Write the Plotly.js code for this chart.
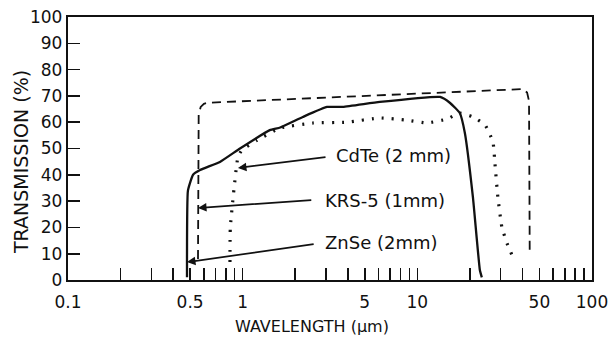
<!DOCTYPE html>
<html><head><meta charset="utf-8">
<script src="https://cdn.plot.ly/plotly-3.0.1.min.js"></script>
<style>html,body{margin:0;padding:0;background:#fff}#chart{width:613px;height:343px}</style>
</head><body><div id="chart"></div>
<script>
// Solid curve
const solidX = [0.48, 0.48, 0.486, 0.52, 0.57, 0.741, 0.965, 1.43, 1.64, 2.21, 3.04, 3.75, 6.1, 13.5, 15.4, 17.5, 18.7, 20.8, 22.8, 23.4];
const solidY = [1, 7.6, 34, 40, 41.8, 44.9, 50, 57, 58, 62, 65.8, 65.8, 67.7, 69.6, 67.3, 63.5, 56, 31.6, 3.8, 1];
// Dotted curve
const dottedX = [0.846, 0.85, 0.94, 0.99, 1.2, 1.64, 2.53, 3.95, 6.1, 8.7, 11.35, 14.8, 17.5, 20.8, 24.4, 27.1, 27.8, 28.9, 30.5, 32.6, 34.8];
const dottedY = [6.8, 20, 46.8, 49.4, 53, 57.8, 59.7, 60, 61.6, 60.8, 59.7, 61.2, 63.5, 62, 59, 52.5, 44.5, 31.6, 20, 14, 9.5];
// Dashed curve
const dashedX = [0.555, 0.555, 0.56, 0.575, 0.6, 0.63, 40.2, 42.5, 43.6, 44];
const dashedY = [8, 58, 63, 65.8, 67, 67.4, 72.6, 71.3, 68, 10.3];

const xTickVals = [0.1,0.2,0.3,0.4,0.5,0.6,0.7,0.8,0.9,1,2,3,4,5,6,7,8,9,10,20,30,40,50,60,70,80,90,100];
const xTickLabels = {0.1:"0.1",0.5:"0.5",1:"1",5:"5",10:"10",50:"50",100:"100"};
const yTickVals = [0,10,20,30,40,50,60,70,80,90,100];

// Curve labels with arrow tip, arrow tail and text position (wavelength, %)
const labelText = ["CdTe (2 mm)", "KRS-5 (1mm)", "ZnSe (2mm)"];
const labelTip = [[0.94, 42.6], [0.555, 27.4], [0.48, 6.8]];
const labelTail = [[3.04, 46.8], [2.52, 30.4], [2.6, 13.7]];
const labelPos = [[3.35, 47.5], [2.9, 30.4], [2.9, 14.1]];

const ink = '#111';
const fam = 'DejaVu Sans, sans-serif';
const tickFont = {family:fam, size:17, color:ink};

const traces = [
  {x:dashedX, y:dashedY, mode:'lines', line:{color:ink, width:1.8, dash:'9px,6px'}, hoverinfo:'skip'},
  {x:solidX, y:solidY, mode:'lines', line:{color:ink, width:2.3, shape:'spline', smoothing:0.4}, hoverinfo:'skip'},
  {x:dottedX, y:dottedY, mode:'lines', line:{color:ink, width:3.2, dash:'2px,8px', shape:'spline', smoothing:0.4}, hoverinfo:'skip'}
];

const annotations = [];
for (let i=0;i<labelText.length;i++){
  annotations.push({x:Math.log10(labelTip[i][0]), y:labelTip[i][1], xref:'x', yref:'y',
    ax:Math.log10(labelTail[i][0]), ay:labelTail[i][1], axref:'x', ayref:'y',
    showarrow:true, arrowhead:2, arrowsize:1, arrowwidth:1.7, arrowcolor:ink, text:''});
  annotations.push({x:Math.log10(labelPos[i][0]), y:labelPos[i][1], xref:'x', yref:'y',
    text:labelText[i], showarrow:false, xanchor:'left', yanchor:'middle', font:{family:fam,size:18,color:ink}});
}
annotations.push({x:312, y:326, xref:'paper', yref:'paper', xanchor:'center', yanchor:'middle',
  text:'WAVELENGTH (\u00b5m)', showarrow:false, font:{family:fam,size:16,color:ink}});
annotations.push({x:21, y:162, xref:'paper', yref:'paper', xanchor:'center', yanchor:'middle',
  text:'TRANSMISSION (%)', textangle:-90, showarrow:false, font:{family:fam,size:19,color:ink}});

const L=68, R=21, T=17, B=63, W=613, H=343;
annotations.forEach(a=>{ if(a.xref==='paper'){ a.x=(a.x-L)/(W-L-R); a.y=(H-B-a.y)/(H-T-B); }});

const layout = {
  width:W, height:H, margin:{l:L, r:R, t:T, b:B}, showlegend:false,
  paper_bgcolor:'#fff', plot_bgcolor:'#fff',
  xaxis:{type:'log', range:[-1,2], tickvals:xTickVals, ticktext:xTickVals.map(v=>xTickLabels[v]||''),
    ticks:'inside', ticklen:12, tickwidth:1.6, tickcolor:ink, showgrid:false, zeroline:false, ticklabelstandoff:5,
    showline:true, linecolor:ink, linewidth:2.2, mirror:true, tickfont:tickFont, fixedrange:true},
  yaxis:{range:[0,100], tickvals:yTickVals, ticks:'inside', ticklen:12, tickwidth:1.6, tickcolor:ink,
    showgrid:false, zeroline:false, showline:true, linecolor:ink, linewidth:2.2, mirror:true, tickfont:tickFont, fixedrange:true},
  annotations:annotations
};
Plotly.newPlot('chart', traces, layout, {staticPlot:true, displayModeBar:false});
</script></body></html>
